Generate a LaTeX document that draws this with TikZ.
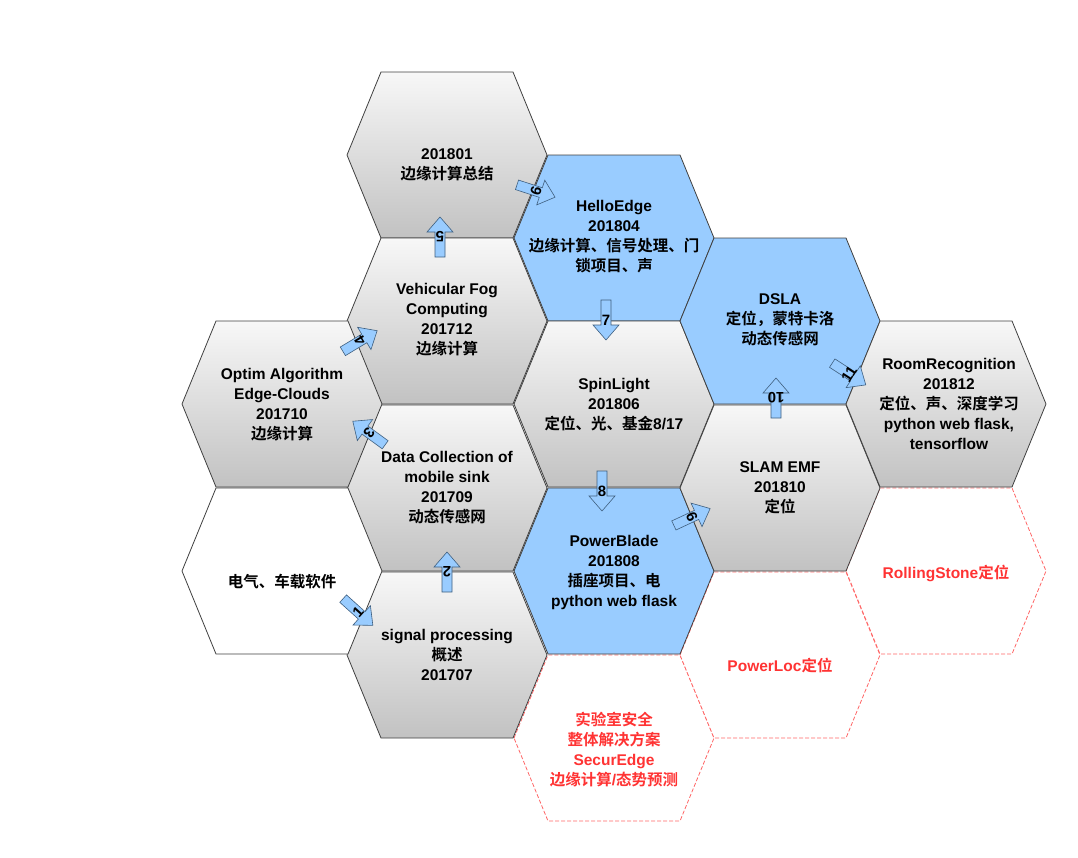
\documentclass[tikz,border=0pt]{standalone}
\usepackage{fontspec}
\setmainfont{Liberation Sans}
\newfontfamily\cjk{Noto Sans CJK SC}[BoldFont={Noto Sans CJK SC Bold}]
\definecolor{hexblue}{HTML}{99CCFF}
\definecolor{hexline}{HTML}{404040}
\definecolor{redtxt}{HTML}{FF3333}
\definecolor{reddash}{HTML}{FF6666}
\definecolor{arrline}{HTML}{3F5F7F}
\newcommand\hexpath[2]{(#1-100,#2) -- (#1-66,#2+83) -- (#1+66,#2+83) -- (#1+100,#2) -- (#1+66,#2-83) -- (#1-66,#2-83) -- cycle}
\newcommand\blkarrow[5]{%
  \begin{scope}[shift={(#2,#3)},rotate=#4]
    \path[arrowbody] (-20,-5) -- (5,-5) -- (5,-13) -- (20,0) -- (5,13) -- (5,5) -- (-20,5) -- cycle;
  \end{scope}
  \node[arrowlabel,rotate=#4+90] (#1) at (#2,#3) {#5};
}
\tikzset{
  grayhex/.style={top color=gray!6, bottom color=gray!48, draw=hexline, line width=0.8pt, line join=miter},
  bluehex/.style={fill=hexblue, draw=hexline, line width=0.8pt},
  whitehex/.style={fill=white, draw=hexline, line width=0.8pt},
  dashhex/.style={fill=white, draw=reddash, line width=0.8pt, dash pattern=on 4pt off 2pt},
  txt/.style={align=center, inner sep=0pt, font=\fontsize{15.5}{20}\selectfont\bfseries, text=black},
  redt/.style={txt, text=redtxt},
  arrowbody/.style={fill=hexblue, draw=arrline, line width=0.6pt},
  arrowlabel/.style={inner sep=0pt, font=\fontsize{15}{15}\selectfont\bfseries, text=black},
}
\begin{document}
\begin{tikzpicture}[x=1pt,y=1pt]
\useasboundingbox (0,0) rectangle (1078,-857);
% dashed (future) hexagons first
\path[dashhex] \hexpath{614}{-738};
\path[dashhex] \hexpath{780}{-655};
\path[dashhex] \hexpath{946}{-571};
% solid hexagons
\path[grayhex] \hexpath{447}{-155};
\path[grayhex] \hexpath{447}{-321};
\path[grayhex] \hexpath{447}{-488};
\path[grayhex] \hexpath{447}{-655};
\path[grayhex] \hexpath{282}{-404};
\path[whitehex] \hexpath{282}{-571};
\path[bluehex] \hexpath{614}{-238};
\path[grayhex] \hexpath{614}{-404};
\path[bluehex] \hexpath{614}{-571};
\path[bluehex] \hexpath{780}{-321};
\path[grayhex] \hexpath{780}{-488};
\path[grayhex] \hexpath{946}{-404};
% texts
\node[txt] (t201801) at (447,-165) {201801\\{\cjk 边缘计算总结}};
\node[txt] (hello) at (614,-237) {HelloEdge\\201804\\{\cjk 边缘计算、信号处理、门}\\{\cjk 锁项目、声}};
\node[txt] (vfc) at (447,-320) {Vehicular Fog\\Computing\\201712\\{\cjk 边缘计算}};
\node[txt] (dsla) at (780,-320) {DSLA\\{\cjk 定位，蒙特卡洛}\\{\cjk 动态传感网}};
\node[txt] (optim) at (282,-405) {Optim Algorithm\\Edge-Clouds\\201710\\{\cjk 边缘计算}};
\node[txt] (spin) at (614,-405) {SpinLight\\201806\\{\cjk 定位、光、基金}8/17};
\node[txt] (room) at (949,-404) {RoomRecognition\\201812\\{\cjk 定位、声、深度学习}\\python web flask,\\tensorflow};
\node[txt] (data) at (447,-488) {Data Collection of\\mobile sink\\201709\\{\cjk 动态传感网}};
\node[txt] (slam) at (780,-488) {SLAM EMF\\201810\\{\cjk 定位}};
\node[txt] (elec) at (282,-582) {{\cjk 电气、车载软件}};
\node[txt] (power) at (614,-572) {PowerBlade\\201808\\{\cjk 插座项目、电}\\python web flask};
\node[redt] (rolling) at (946,-573) {RollingStone{\cjk 定位}};
\node[txt] (signal) at (447,-655) {signal processing\\{\cjk 概述}\\201707};
\node[redt] (ploc) at (780,-665) {PowerLoc{\cjk 定位}};
\node[redt] (lab) at (614,-750) {{\cjk 实验室安全}\\{\cjk 整体解决方案}\\SecurEdge\\{\cjk 边缘计算}/{\cjk 态势预测}};
% block arrows
\blkarrow{a1}{358}{-612}{-42}{1}
\blkarrow{a2}{447}{-572}{90}{2}
\blkarrow{a3}{369}{-433}{144}{3}
\blkarrow{a4}{360}{-341}{31}{4}
\blkarrow{a5}{440}{-237}{90}{5}
\blkarrow{a6}{536}{-191}{-18}{6}
\blkarrow{a7}{606}{-320}{-90}{7}
\blkarrow{a8}{602}{-491}{-90}{8}
\blkarrow{a9}{692}{-517}{25}{9}
\blkarrow{a10}{776}{-398}{90}{10}
\blkarrow{a11}{849}{-374}{-33}{11}
\end{tikzpicture}
\end{document}
